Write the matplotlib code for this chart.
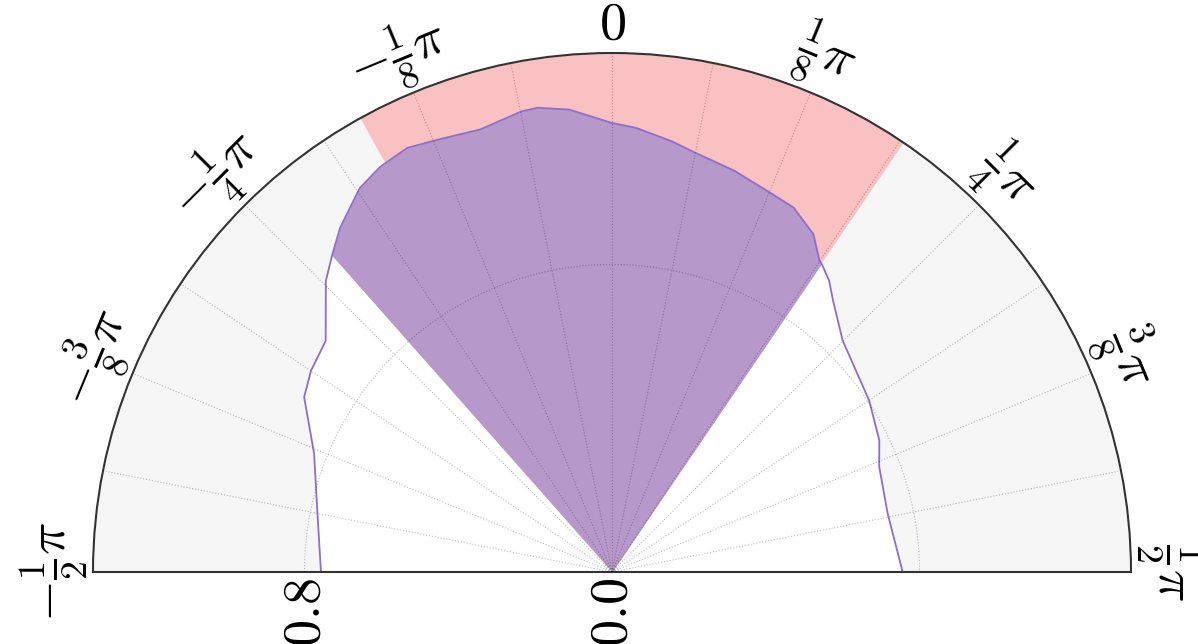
import numpy as np
import matplotlib
matplotlib.use("Agg")
from matplotlib import pyplot as plt
from matplotlib.transforms import ScaledTranslation

plt.rcParams['mathtext.fontset'] = 'cm'

# curve: angle in degrees (clockwise from north), radius
theta_deg = [-90, -78.8, -68.3, -60.4, -56.2, -51.1, -44.5, -42.1, -41.5, -38.3,
             -33.3, -29.8, -25.8, -21.8, -16.6, -11.1, -9.1, -5.3, 0, 3.1,
             7.9, 11.2, 17.0, 22.6, 26.5, 30.8, 33.7, 34.2, 36.7, 39.2,
             44.9, 56.3, 63.8, 68.5, 78.0, 90]
radius = [0.757, 0.781, 0.834, 0.921, 0.942, 0.957, 1.062, 1.091, 1.099, 1.141,
          1.195, 1.214, 1.225, 1.212, 1.201, 1.221, 1.223, 1.208, 1.168, 1.157,
          1.131, 1.112, 1.091, 1.069, 1.059, 1.023, 0.973, 0.970, 0.945, 0.910,
          0.850, 0.804, 0.775, 0.747, 0.733, 0.756]

# wedges (degrees)
pink_range = (-29.0, 34.2)
purple_range = (-41.5, 34.2)
r_max = 1.35

theta_ticks_deg = np.arange(-90, 91, 11.25)
theta_labels = [r'$-\frac{1}{2}\pi$', '', r'$-\frac{3}{8}\pi$', '', r'$-\frac{1}{4}\pi$', '',
                r'$-\frac{1}{8}\pi$', '', r'$0$', '', r'$\frac{1}{8}\pi$', '',
                r'$\frac{1}{4}\pi$', '', r'$\frac{3}{8}\pi$', '', r'$\frac{1}{2}\pi$']
r_ticks = [0.0, 0.8]
r_labels = [r'$0.0$', r'$0.8$']

th = np.deg2rad(theta_deg)
r = np.array(radius)

fig = plt.figure(figsize=(11.98, 6.44), dpi=100)
# half disc sits in the middle of a square box: centre at 1/4 of the height
S = 1038
ax = fig.add_axes([93/1198, (72 - S/4)/644, S/1198, S/644], projection='polar')
ax.set_theta_zero_location('N')
ax.set_theta_direction(-1)
ax.set_thetamin(-90)
ax.set_thetamax(90)
ax.set_rlim(0, r_max)
ax.set_facecolor('#f6f6f6')

# white inside the curve
ax.fill_between(th, 0, r, color='white', lw=0, zorder=1)
# pink wedge
lo, hi = np.deg2rad(pink_range)
ax.bar((lo+hi)/2, r_max, width=hi-lo, bottom=0, color='#f9c1c1', lw=0, zorder=1.1)
# purple wedge under the curve
m = (np.array(theta_deg) >= purple_range[0]) & (np.array(theta_deg) <= purple_range[1])
ax.fill_between(th[m], 0, r[m], color='#b698ca', lw=0, zorder=1.2)
ax.plot(th, r, color='#8c6fc9', lw=1.3, zorder=2)

ax.set_axisbelow(False)
ax.set_xticks(np.deg2rad(theta_ticks_deg))
ax.set_xticklabels([])
ax.tick_params(axis='x', direction='in', length=6, width=1)
ax.set_yticks(r_ticks)
ax.set_yticklabels([])
ax.tick_params(axis='y', direction='in', length=6, width=1)
ax.grid(True, color='k', alpha=0.25, linestyle=':', lw=0.8)

# angle labels: inner edge sitting on the arc, turned along it
for d, lab in zip(theta_ticks_deg, theta_labels):
    if lab:
        ax.text(np.deg2rad(d), r_max * 1.006, lab, fontsize=39, rotation=-d,
                rotation_mode='anchor', ha='center', va='bottom')

# radius labels below the base line, reading upwards
down = ax.transData + ScaledTranslation(0, -6/100, fig.dpi_scale_trans)
for v, lab in zip(r_ticks, r_labels):
    ax.text(np.deg2rad(-90), v, lab, fontsize=39, rotation=90, transform=down,
            rotation_mode='anchor', ha='right', va='center')

for s in ax.spines.values():
    s.set_color('#333333')
    s.set_linewidth(1.5)

fig.savefig('out.png', dpi=100)
